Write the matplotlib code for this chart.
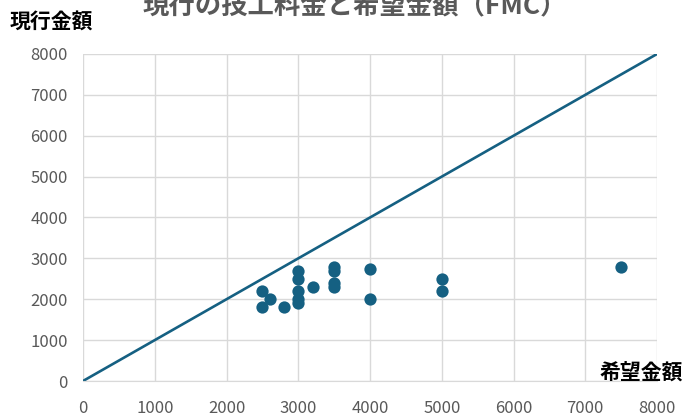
import matplotlib.pyplot as plt
import numpy as np

plt.rcParams['font.family'] = ['Noto Sans CJK JP', 'DejaVu Sans']

# 希望金額 (x) / 現行金額 (y)
kibou = [2500, 2500, 2600, 2800, 3000, 3000, 3000, 3000, 3000, 3200,
         3500, 3500, 3500, 3500, 4000, 4000, 5000, 5000, 7500]
genkou = [2200, 1800, 2000, 1800, 2700, 2500, 2200, 2000, 1900, 2300,
          2800, 2700, 2400, 2300, 2750, 2000, 2500, 2200, 2800]
ref_line = [0, 8000]
ticks = [0, 1000, 2000, 3000, 4000, 5000, 6000, 7000, 8000]

title = '現行の技工料金と希望金額（FMC）'
xlabel = '希望金額'
ylabel = '現行金額'

color = '#156082'
grid_color = '#d9d9d9'
tick_color = '#595959'

W, H = 684, 419
fig = plt.figure(figsize=(W / 100, H / 100), dpi=100)
ax = fig.add_axes([83 / W, 1 - 381 / H, (657 - 83) / W, (381 - 54) / H])

ax.plot(ref_line, ref_line, color=color, lw=1.9, zorder=2)
ax.scatter(kibou, genkou, s=78, color=color, zorder=3, linewidths=0)

ax.set_xlim(0, 8000)
ax.set_ylim(0, 8000)
ax.set_xticks(ticks)
ax.set_yticks(ticks)
ax.grid(True, color=grid_color, lw=1)
ax.set_axisbelow(True)
for s in ['top', 'right', 'left']:
    ax.spines[s].set_visible(False)
ax.spines['bottom'].set_color(grid_color)
ax.tick_params(length=0, labelsize=12, labelcolor=tick_color)
ax.tick_params(axis='y', pad=11)
ax.tick_params(axis='x', pad=14)

# 題名は上端で切れている（元画像のとおり）
fig.text(355 / W, 1 - 7 / H, title, ha='center', va='center',
         fontsize=19, fontweight='bold', color=tick_color)
fig.text(10 / W, 1 - 22 / H, ylabel, ha='left', va='center',
         fontsize=15, fontweight='bold', color='black')
fig.text(683 / W, 1 - 373 / H, xlabel, ha='right', va='center',
         fontsize=15, fontweight='bold', color='black')

fig.savefig('out.png', dpi=100)
